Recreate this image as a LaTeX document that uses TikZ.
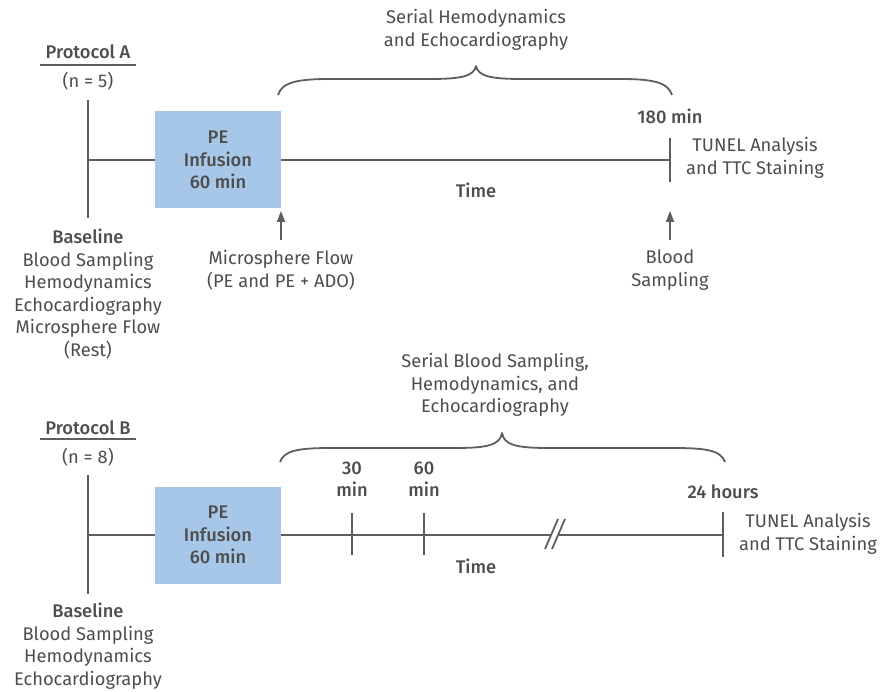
\documentclass[tikz,border=0pt]{standalone}
\usepackage{fontspec}
\setmainfont{Fira Sans}[BoldFont={Fira Sans Medium}]
\usetikzlibrary{arrows.meta}
\definecolor{ink}{HTML}{4D4D4D}
\definecolor{rule}{HTML}{5E5E5E}
\definecolor{infusion}{HTML}{A7C7E8}
\tikzset{
  lbl/.style={text=ink,font=\fontsize{18.3}{22.5}\selectfont,align=center,inner sep=0pt},
  blbl/.style={lbl,font=\fontsize{18.3}{22.5}\selectfont\bfseries},
  pebox/.style={fill=infusion,minimum width=126pt,minimum height=97pt,inner sep=0pt,text=ink,
    font=\fontsize{18.3}{22.5}\selectfont\bfseries,align=center},
  tl/.style={draw=rule,line width=2.2pt},
  up/.style={draw=rule,line width=1.8pt,-{Triangle[length=11pt,width=8pt]}}
}
\begin{document}
\begin{tikzpicture}[x=1pt,y=-1pt,line join=round]
\useasboundingbox (0,0) rectangle (881,692);
% Protocol A
\node[blbl] (protA) at (88,52) {Protocol A};
\node[lbl] (nA) at (88,81) {(n = 5)};
\coordinate (ulAl) at (40,65); \coordinate (ulAr) at (136,65);
\draw[tl,line width=1.8pt] (ulAl)--(ulAr);
\coordinate (topA) at (88,100); \coordinate (botA) at (88,218);
\coordinate (midA) at (88,160);
\node[pebox] (boxA) at (218,160) {PE\\Infusion\\60 min};
\coordinate (endA) at (670,160);
\coordinate (endAt) at (670,138); \coordinate (endAb) at (670,182);
\draw[tl] (topA)--(botA) (midA)--(boxA.west) (boxA.east)--(endA) (endAt)--(endAb);
\node[blbl] (tA) at (670,116) {180 min};
\node[lbl] (tunelA) at (755,158) {TUNEL Analysis\\and TTC Staining};
\node[blbl] (timeA) at (476,190) {Time};
\node[lbl] (mfA) at (281,270) {Microsphere Flow\\(PE and PE + ADO)};
\node[lbl] (bsA) at (670,270) {Blood\\Sampling};
\coordinate (mfAb) at (281,240); \coordinate (mfAt) at (281,211);
\coordinate (bsAb) at (670,240); \coordinate (bsAt) at (670,211);
\draw[up] (mfAb)--(mfAt);
\draw[up] (bsAb)--(bsAt);
\node[lbl] (baseA) at (88,294) {\textbf{Baseline}\\Blood Sampling\\Hemodynamics\\Echocardiography\\Microsphere Flow\\(Rest)};
% brace A
\draw[draw=rule,line width=1.8pt] (278,95) .. controls (282,82) and (298,79) .. (330,79) -- (430,79)
  .. controls (462,79) and (474,76) .. (476,66) .. controls (478,76) and (490,79) .. (522,79) -- (620,79)
  .. controls (652,79) and (668,82) .. (672,95);
\node[lbl] (serA) at (476,30) {Serial Hemodynamics\\and Echocardiography};
% Protocol B
\node[blbl] (protB) at (88,428) {Protocol B};
\node[lbl] (nB) at (88,457) {(n = 8)};
\coordinate (ulBl) at (40,439); \coordinate (ulBr) at (136,439);
\draw[tl,line width=1.8pt] (ulBl)--(ulBr);
\coordinate (topB) at (88,475); \coordinate (botB) at (88,594);
\coordinate (midB) at (88,535);
\node[pebox] (boxB) at (218,535) {PE\\Infusion\\60 min};
\coordinate (brkL) at (551,535); \coordinate (brkR) at (559,535);
\coordinate (endB) at (723,535);
\draw[tl] (topB)--(botB) (midB)--(boxB.west) (boxB.east)--(brkL) (brkR)--(endB)
  (723,512)--(723,557);
\foreach \x/\t in {352/30,424/60}{
  \draw[tl] (\x,513)--(\x,555);
  \node[blbl] (t\t) at (\x,479) {\t\\min};
}
\draw[tl,line width=1.8pt] (545,549)--(558,519) (552,549)--(565,519);
\node[blbl] (tB) at (723,492) {24 hours};
\node[lbl] (tunelB) at (808,534) {TUNEL Analysis\\and TTC Staining};
\node[blbl] (timeB) at (476,566) {Time};
\node[lbl] (baseB) at (88,646) {\textbf{Baseline}\\Blood Sampling\\Hemodynamics\\Echocardiography};
% brace B
\draw[draw=rule,line width=1.8pt] (280,462) .. controls (284,450) and (300,448) .. (332,448) -- (455,448)
  .. controls (488,448) and (500,445) .. (502,433) .. controls (504,445) and (516,448) .. (549,448) -- (673,448)
  .. controls (705,448) and (721,450) .. (725,462);
\node[lbl] (serB) at (495,385) {Serial Blood Sampling,\\Hemodynamics, and\\Echocardiography};
\end{tikzpicture}
\end{document}
